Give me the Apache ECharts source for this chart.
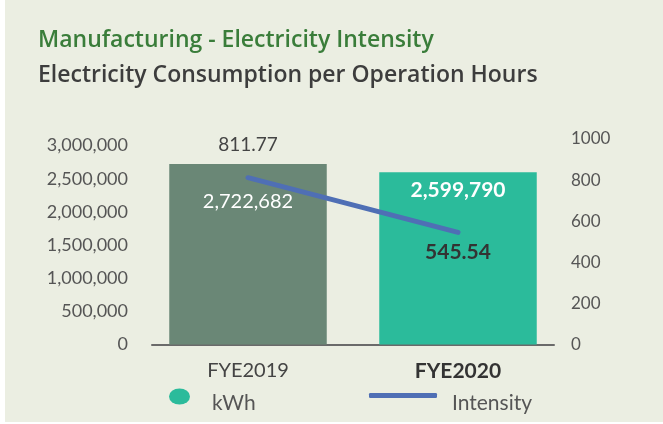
<!DOCTYPE html>
<html>
<head>
<meta charset="utf-8">
<script src="https://cdn.jsdelivr.net/npm/echarts@6/dist/echarts.min.js"></script>
<style>
  html, body { margin: 0; padding: 0; background: #ffffff; }
  #chart { position: absolute; left: 5px; top: 0; width: 658px; height: 422px; }
</style>
</head>
<body>
<div id="chart"></div>
<script>
// Fiscal years and the two measures plotted for each
const categories = ['FYE2019', 'FYE2020'];
const kwhValues = [2722682, 2599790];
const intensityValues = [811.77, 545.54];
const kwhTicks = ['0', '500,000', '1,000,000', '1,500,000', '2,000,000', '2,500,000', '3,000,000'];
const intensityTicks = ['0', '200', '400', '600', '800', '1000'];

const FONT = 'Lato, "Open Sans", sans-serif';
const TITLE_FONT = '"Open Sans", sans-serif';
const barColors = ['#6A8776', '#2BBB9B'];
const lineColor = '#4F6FB5';

const fmtThousands = v => Math.round(v).toLocaleString('en-US');

const chart = echarts.init(document.getElementById('chart'), null, { renderer: 'canvas' });

// legend text sits a little below its key
const legendText = (topPad) => ({
  formatter: name => '{t|' + name + '}',
  textStyle: {
    rich: {
      t: { fontFamily: FONT, fontSize: 21, color: '#555555', lineHeight: 24, padding: [topPad, 0, 0, 0] }
    }
  }
});

const option = {
  backgroundColor: '#EBEEE2',
  animation: false,
  textStyle: { fontFamily: FONT },
  title: [
    {
      text: 'Manufacturing - Electricity Intensity',
      left: 33, top: 29, padding: 0,
      textStyle: { fontFamily: TITLE_FONT, fontSize: 23, fontWeight: 600, color: '#3A7D3A' }
    },
    {
      text: 'Electricity Consumption per Operation Hours',
      left: 33, top: 64, padding: 0,
      textStyle: { fontFamily: TITLE_FONT, fontSize: 23, fontWeight: 600, color: '#3D3D3D' }
    }
  ],
  legend: [
    Object.assign({
      data: [{ name: 'kWh', icon: 'path://M0,8a10.5,8 0 1,0 21,0a10.5,8 0 1,0 -21,0z' }],
      left: 164, top: 379, padding: 0,
      itemWidth: 21, itemHeight: 16
    }, legendText(14), { textStyle: { padding: [0, 0, 0, 17], rich: legendText(14).textStyle.rich } }),
    Object.assign({
      data: [{ name: 'Intensity', icon: 'roundRect', itemStyle: { color: lineColor } }],
      left: 364, top: 377, padding: 0,
      itemWidth: 68, itemHeight: 5
    }, legendText(16), { textStyle: { padding: [0, 0, 0, 10], rich: legendText(16).textStyle.rich } })
  ],
  grid: [
    { left: 138, right: 100, top: 139, bottom: 77.5 },
    { left: 147, right: 109, top: 139, bottom: 77.5 }
  ],
  xAxis: [
    {
      type: 'category',
      gridIndex: 0,
      data: categories,
      axisLine: { show: false },
      axisTick: { show: false },
      axisLabel: {
        margin: 16,
        fontFamily: FONT,
        fontSize: 20,
        color: '#444444',
        formatter: (v, i) => i === categories.length - 1 ? '{b|' + v + '}' : v,
        rich: { b: { fontFamily: FONT, fontSize: 21, fontWeight: 'bold', color: '#333333' } }
      }
    },
    {
      type: 'category',
      gridIndex: 1,
      data: categories,
      axisLine: { show: true, lineStyle: { color: '#6A6A6A', width: 2 } },
      axisTick: { show: false },
      axisLabel: { show: false }
    }
  ],
  yAxis: [
    {
      type: 'value',
      gridIndex: 0,
      min: 0, max: 3100000, interval: 500000,
      splitLine: { show: false },
      axisLine: { show: false },
      axisTick: { show: false },
      axisLabel: {
        margin: 15, fontFamily: FONT, fontSize: 18, color: '#555555', showMaxLabel: false,
        formatter: v => kwhTicks[Math.round(v / 500000)] || ''
      }
    },
    {
      type: 'value',
      gridIndex: 0,
      position: 'right',
      min: 0, max: 1000, interval: 200,
      splitLine: { show: false },
      axisLine: { show: false },
      axisTick: { show: false },
      axisLabel: {
        margin: 8, fontFamily: FONT, fontSize: 17, color: '#555555',
        formatter: v => intensityTicks[Math.round(v / 200)] || ''
      }
    },
    {
      type: 'value', gridIndex: 1, min: 0, max: 1, show: false
    }
  ],
  series: [
    {
      name: 'kWh',
      type: 'bar',
      xAxisIndex: 0, yAxisIndex: 0,
      barWidth: '75%',
      itemStyle: { color: barColors[1] },
      data: kwhValues.map((v, i) => ({
        value: v,
        itemStyle: { color: barColors[i] },
        label: i === 0
          ? { offset: [0, 23], fontWeight: 'normal', fontSize: 20 }
          : { offset: [0, 3], fontWeight: 'bold', fontSize: 21 }
      })),
      label: {
        show: true,
        position: 'insideTop',
        distance: 5,
        fontFamily: FONT,
        color: '#FFFFFF',
        formatter: p => fmtThousands(p.value)
      },
      z: 2
    },
    {
      name: 'Intensity',
      type: 'line',
      xAxisIndex: 0, yAxisIndex: 1,
      symbol: 'circle',
      symbolSize: 0.1,
      showSymbol: true,
      lineStyle: { color: lineColor, width: 5, cap: 'round' },
      itemStyle: { color: lineColor },
      data: intensityValues.map((v, i) => ({
        value: v,
        label: i === 0
          ? { show: true, position: 'top', offset: [0, -18], fontWeight: 'normal', fontSize: 19, color: '#444444' }
          : { show: true, position: 'bottom', offset: [0, 4], fontWeight: 'bold', fontSize: 21, color: '#333333' }
      })),
      label: {
        show: true, fontFamily: FONT,
        formatter: p => p.value.toFixed(2)
      },
      z: 3
    }
  ]
};

chart.setOption(option);
</script>
</body>
</html>
